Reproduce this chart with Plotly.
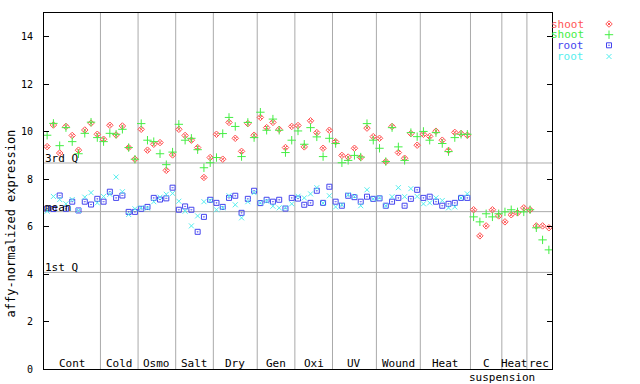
import plotly.graph_objects as go

# ---------------- data ----------------
group_labels = ["Cont", "Cold", "Osmo", "Salt", "Dry", "Gen", "Oxi", "UV",
                "Wound", "Heat", "C", "Heat", "rec"]
group_sizes = [9, 6, 6, 6, 7, 6, 6, 7, 7, 8, 5, 4, 4]

shoot_rep1 = [9.37, 10.28, 9.10, 10.22, 9.84, 9.22, 10.07, 10.36, 9.89,
              9.68, 10.27, 9.86, 10.24, 9.33, 8.84,
              10.10, 9.22, 9.47, 9.54, 8.37, 9.02,
              10.10, 9.84, 9.64, 9.33, 8.07, 8.91,
              9.89, 8.84, 10.39, 9.72, 9.17, 10.34, 9.85,
              10.60, 10.17, 10.39, 10.10, 9.33, 10.22,
              10.26, 9.36, 10.46, 9.96, 9.30, 10.06,
              9.58, 9.00, 8.93, 9.30, 8.91, 10.15, 9.79,
              9.72, 8.74, 10.22, 9.12, 8.88, 9.92, 9.43,
              9.89, 9.80, 10.02, 9.64, 9.21, 9.97, 9.92, 9.85,
              6.71, 5.61, 6.03, 6.71, 6.45,
              6.20, 6.50, 6.58, 6.79,
              6.71, 6.03, 6.03, 5.95]

shoot_rep2 = [9.85, 10.35, 9.41, 10.17, 9.58, 9.07, 9.93, 10.40, 9.75,
              9.58, 9.93, 9.89, 10.10, 9.33, 8.84,
              10.34, 9.64, 9.58, 9.07, 8.61, 9.14,
              10.31, 9.64, 9.72, 9.24, 8.48, 8.69,
              8.91, 9.92, 10.60, 10.22, 8.95, 10.39, 9.75,
              10.82, 10.06, 10.53, 10.06, 9.12, 9.64,
              10.03, 9.47, 10.17, 9.78, 8.95, 9.72,
              9.50, 8.69, 8.79, 9.00, 8.93, 10.34, 9.64,
              9.30, 8.74, 10.17, 9.36, 8.79, 9.96, 9.79,
              10.01, 9.64, 9.96, 9.50, 9.16, 9.75, 9.89, 9.89,
              6.41, 6.20, 6.54, 6.41, 6.54,
              6.62, 6.71, 6.62, 6.62,
              6.71, 5.95, 5.44, 5.02]

root_rep1 = [6.76, 6.74, 7.31, 6.75, 7.05, 6.68, 7.05, 6.93, 7.17,
             7.05, 7.47, 7.21, 7.31, 6.62, 6.62,
             6.75, 6.83, 7.21, 7.14, 7.19, 7.64,
             6.71, 6.85, 6.71, 5.78, 6.41, 7.13,
             7.00, 6.83, 7.21, 7.30, 6.58, 7.17, 7.51,
             6.99, 7.13, 7.05, 7.13, 6.76, 7.21,
             7.18, 6.92, 7.00, 7.51, 7.00, 7.68,
             7.05, 6.88, 7.30, 7.24, 7.05, 7.26, 7.17,
             7.19, 6.88, 7.05, 7.21, 6.88, 7.17, 7.55,
             7.21, 7.26, 7.05, 6.88, 6.96, 7.00, 7.21, 7.21,
             None, None, None, None, None,
             None, None, None, None,
             None, None, None, None]

root_rep2 = [6.65, 7.27, 7.14, 6.96, 7.14, 6.68, 7.24, 7.43, 7.00,
             7.27, 7.36, 8.09, 7.47, 6.51, 6.75,
             6.79, 6.78, 7.05, 7.24, 7.36, 7.40,
             7.07, 6.65, 6.03, 6.45, 7.05, 7.10,
             6.71, 6.79, 7.30, 6.92, 6.37, 7.05, 7.43,
             7.00, 7.07, 6.86, 6.79, 6.79, 6.96,
             7.28, 7.21, 7.38, 7.64, 6.99, 7.30,
             6.83, 6.92, 7.34, 7.27, 6.88, 7.55, 7.17,
             7.21, 6.88, 7.26, 7.64, 7.26, 7.60, 7.27,
             6.96, 7.00, 7.21, 7.10, 6.79, 6.83, 7.21, 7.38,
             None, None, None, None, None,
             None, None, None, None,
             None, None, None, None]

q3_value = 8.68
mean_value = 6.63
q1_value = 4.07

series_names = ["shoot", "shoot", "root", "root"]
y_tick_values = [0, 2, 4, 6, 8, 10, 12, 14]

# ---------------- styling / layout ----------------
RED = "#ff5555"
GREEN = "#44ee44"
BLUE = "#4444ee"
CYAN = "#55eeee"
GRID = "#aaaaaa"
FONT = "DejaVu Sans Mono"

W, H = 640, 384
PX_L, PX_R, PX_T, PX_B = 44, 552, 13, 369   # plot box in pixels
n_samples = sum(group_sizes)
Y_MAX = 15.0


def px_x(px):
    return px / W


def px_y(py):
    return 1 - py / H


x_pos = [i + 0.5 for i in range(n_samples)]

fig = go.Figure()

series = [
    (shoot_rep1, series_names[0], RED, "diamond-x-open", 5),
    (shoot_rep2, series_names[1], GREEN, "cross-thin-open", 6),
    (root_rep1, series_names[2], BLUE, "square-open-dot", 5),
    (root_rep2, series_names[3], CYAN, "x-thin-open", 5),
]

for vals, name, col, sym, sz in series:
    fig.add_trace(go.Scatter(
        x=x_pos, y=vals, mode="markers", name=name, showlegend=False,
        marker=dict(symbol=sym, size=sz, color=col,
                    line=dict(color=col, width=1)),
    ))

shapes = []
cum = 0
for s in group_sizes[:-1]:
    cum += s
    shapes.append(dict(type="line", xref="x", yref="y domain", x0=cum, x1=cum,
                       y0=0, y1=1, line=dict(color=GRID, width=1), layer="below"))
for v in (q3_value, mean_value, q1_value):
    shapes.append(dict(type="line", xref="x domain", yref="y", x0=0, x1=1,
                       y0=v, y1=v, line=dict(color=GRID, width=1), layer="below"))

annotations = []
for v, txt in ((q3_value, "3rd Q"), (mean_value, "mean"), (q1_value, "1st Q")):
    annotations.append(dict(x=px_x(PX_L - 1), y=v, xref="paper", yref="y", text=txt,
                            showarrow=False, xanchor="left", yanchor="bottom",
                            yshift=-4,
                            font=dict(family=FONT, size=11, color="black")))

cum = 0
for lab, s in zip(group_labels, group_sizes):
    annotations.append(dict(x=cum + s / 2, y=px_y(363.5), xref="x", yref="paper",
                            text=lab, showarrow=False, xanchor="center",
                            yanchor="middle",
                            font=dict(family=FONT, size=11, color="black")))
    cum += s
c_end = sum(group_sizes[:11])
annotations.append(dict(x=c_end, y=px_y(377.5), xref="x", yref="paper",
                        text="suspension", showarrow=False, xanchor="center",
                        yanchor="middle",
                        font=dict(family=FONT, size=11, color="black")))

annotations.append(dict(x=px_x(10), y=px_y(223.5), xref="paper", yref="paper",
                        text="affy-normalized expression",
                        textangle=-90, showarrow=False, xanchor="center",
                        yanchor="middle",
                        font=dict(family=FONT, size=12, color="black")))

legend_rows_px = [24, 34.7, 45.3, 56.5]
for (vals, name, col, sym, sz), py in zip(series, legend_rows_px):
    annotations.append(dict(x=px_x(586), y=px_y(py), xref="paper",
                            yref="paper", text=name, showarrow=False,
                            xanchor="right", yanchor="middle",
                            font=dict(family=FONT, size=11, color=col)))
    fig.add_trace(go.Scatter(
        x=[609], y=[py], xaxis="x2", yaxis="y2", mode="markers",
        showlegend=False, hoverinfo="skip",
        marker=dict(symbol=sym, size=sz, color=col,
                    line=dict(color=col, width=1)),
    ))

fig.update_layout(
    width=W, height=H, autosize=False,
    margin=dict(l=0, r=0, t=0, b=0, pad=0, autoexpand=False),
    paper_bgcolor="white", plot_bgcolor="rgba(0,0,0,0)",
    shapes=shapes, annotations=annotations,
    showlegend=False,
    font=dict(family=FONT, size=10, color="black"),
    xaxis=dict(domain=[px_x(PX_L), px_x(PX_R)], range=[0, n_samples],
               showgrid=False, zeroline=False, automargin=False,
               showticklabels=False, ticks="", showline=True, mirror=True,
               linecolor="black", linewidth=1, fixedrange=True, anchor="y"),
    yaxis=dict(domain=[px_y(PX_B), px_y(PX_T)], range=[0, Y_MAX],
               tickvals=y_tick_values, automargin=False,
               showgrid=False, zeroline=False, ticks="inside", ticklen=5,
               tickcolor="black", showline=True, mirror="ticks",
               linecolor="black", linewidth=1,
               tickfont=dict(family=FONT, size=10, color="black"),
               ticklabelstandoff=8, fixedrange=True, anchor="x"),
    xaxis2=dict(domain=[0, 1], range=[0, W], visible=False, anchor="y2",
                automargin=False, fixedrange=True),
    yaxis2=dict(domain=[0, 1], range=[H, 0], visible=False, anchor="x2",
                automargin=False, fixedrange=True),
)

fig.write_html("out.html",
               config={"displayModeBar": False, "staticPlot": True},
               post_script="document.body.style.margin='0';"
                           "document.body.style.overflow='hidden';")
